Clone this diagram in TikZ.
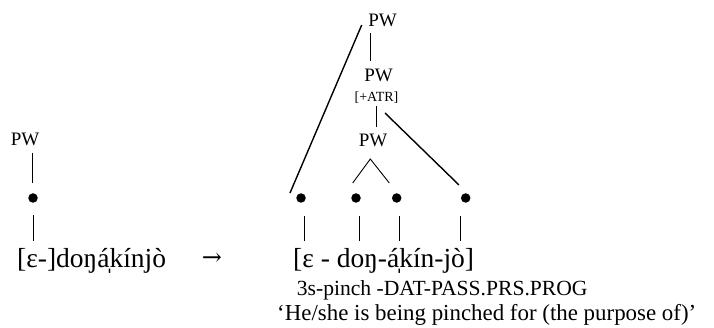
\documentclass[tikz,border=0pt]{standalone}
\usepackage{fontspec}
\setmainfont{Liberation Serif}
\newfontfamily\arrowfont{DejaVu Serif}
\begin{document}
\begin{tikzpicture}[x=1pt,y=-1pt,
  pw/.style={anchor=base,inner sep=0pt,font=\fontsize{19}{19}\selectfont},
  atr/.style={anchor=base,inner sep=0pt,font=\fontsize{14}{14}\selectfont},
  word/.style={anchor=base west,inner sep=0pt,font=\fontsize{27.5}{27.5}\selectfont},
  gloss/.style={anchor=base west,inner sep=0pt,font=\fontsize{21.6}{21.6}\selectfont},
  trans/.style={anchor=base west,inner sep=0pt,font=\fontsize{22.9}{22.9}\selectfont},
  dot/.style={circle,fill=black,inner sep=0pt,minimum size=9.5pt},
  ln/.style={line width=1.4pt},
  thin/.style={line width=0.9pt}]
\useasboundingbox (0,0) rectangle (714,328);
% left
\node[pw] (lpw) at (25,146) {PW};
\node[dot] (ld) at (33,198) {};
\node[word] (lword) at (17,268) {[ɛ-]doŋa^^^^0329^^^^0301kínjò};
\node[anchor=base,inner sep=0pt,font=\arrowfont\fontsize{24}{24}\selectfont] (arr) at (212,266) {→};
\coordinate (l1a) at (32.5,153); \coordinate (l1b) at (32.5,183);
\coordinate (l2a) at (33.5,215); \coordinate (l2b) at (33.5,241);
\draw[ln] (l1a) -- (l1b);
\draw[thin] (l2a) -- (l2b);
% right tree
\node[pw] (p1) at (382.5,27) {PW};
\node[pw] (p2) at (378.5,82) {PW};
\node[atr] (atr) at (376.5,102) {[+ATR]};
\node[pw] (p3) at (373,147) {PW};
\node[dot] (d1) at (301,198) {};
\node[dot] (d2) at (356,198) {};
\node[dot] (d3) at (396.7,198) {};
\node[dot] (d4) at (465.7,198) {};
\coordinate (a1) at (361.7,25); \coordinate (a2) at (290,193);
\coordinate (b1) at (370,33); \coordinate (b2) at (370,61);
\coordinate (c1) at (376.7,106); \coordinate (c2) at (376.7,127);
\coordinate (e1) at (385,113); \coordinate (e2) at (459,185);
\coordinate (f1) at (352.7,183); \coordinate (f2) at (370.3,159); \coordinate (f3) at (389.3,183);
\draw[ln] (a1) -- (a2);
\draw[thin] (b1) -- (b2);
\draw[thin] (c1) -- (c2);
\draw[ln] (e1) -- (e2);
\draw[thin] (f1) -- (f2) -- (f3);
\foreach \n/\x in {1/304.3,2/359.3,3/399.3,4/460.7}{
  \coordinate (v\n a) at (\x,216); \coordinate (v\n b) at (\x,241);
  \draw[thin] (v\n a) -- (v\n b);
}
\node[word] (rword) at (293,268) {[ɛ - doŋ-a^^^^0329^^^^0301kín-jò]};
\node[gloss] (gl) at (296.7,295) {3s-pinch -DAT-PASS.PRS.PROG};
\node[trans] (tr) at (277,320) {‘He/she is being pinched for (the purpose of)’};
\end{tikzpicture}
\end{document}
